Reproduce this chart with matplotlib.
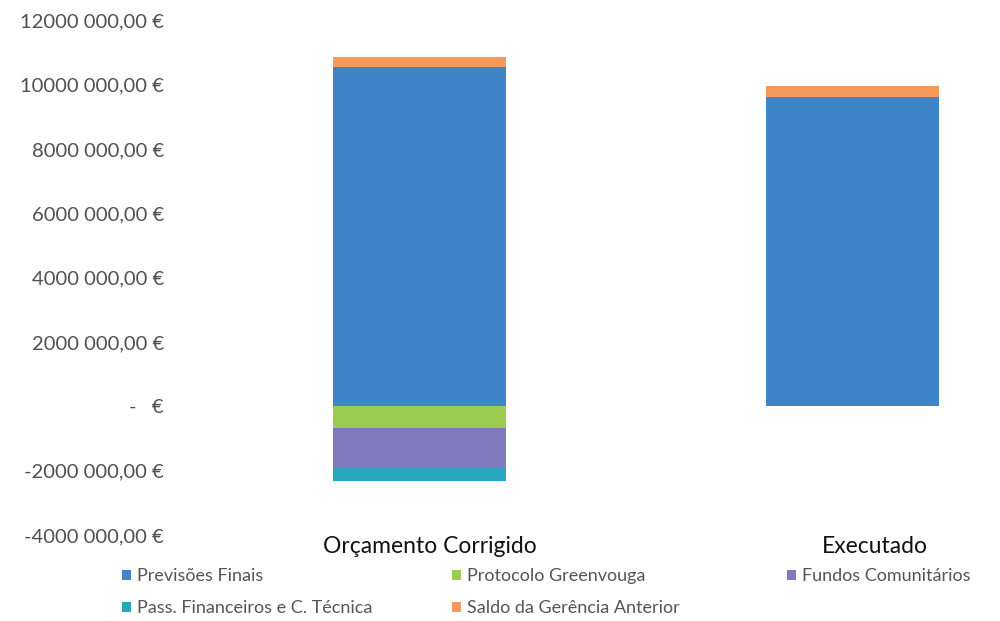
import matplotlib
matplotlib.use("Agg")
import matplotlib.pyplot as plt
import numpy as np

categories = ["Orçamento Corrigido", "Executado"]
previsoes_finais = [10540000, 9600000]
protocolo_greenvouga = [-680000, 0]
fundos_comunitarios = [-1250000, 0]
pass_financeiros = [-400000, 0]
saldo_gerencia = [310000, 340000]

series_names = ["Previsões Finais", "Protocolo Greenvouga", "Fundos Comunitários",
                "Pass. Financeiros e C. Técnica", "Saldo da Gerência Anterior"]
colors = ["#3D85C6", "#9CCB52", "#8079BF", "#27A6BF", "#F59A5A"]

yticks = [-4000000, -2000000, 0, 2000000, 4000000, 6000000, 8000000, 10000000, 12000000]
ytick_labels = ["-4000 000,00 €", "-2000 000,00 €", "-   €", "2000 000,00 €", "4000 000,00 €",
                "6000 000,00 €", "8000 000,00 €", "10000 000,00 €", "12000 000,00 €"]

plt.rcParams['font.family'] = ['Lato', 'DejaVu Sans']

fig = plt.figure(figsize=(10, 6.21), dpi=100)
ax = fig.add_axes([0.2, 0.1385, 0.8, 0.829])

x = np.arange(len(categories))
w = 0.40

pos = np.array(previsoes_finais, dtype=float)
b_prev = ax.bar(x, previsoes_finais, w, color=colors[0], label=series_names[0])
b_saldo = ax.bar(x, saldo_gerencia, w, bottom=pos, color=colors[4], label=series_names[4])
neg = np.zeros(len(categories))
b_proto = ax.bar(x, protocolo_greenvouga, w, bottom=neg, color=colors[1], label=series_names[1])
neg = neg + np.array(protocolo_greenvouga)
b_fundos = ax.bar(x, fundos_comunitarios, w, bottom=neg, color=colors[2], label=series_names[2])
neg = neg + np.array(fundos_comunitarios)
b_pass = ax.bar(x, pass_financeiros, w, bottom=neg, color=colors[3], label=series_names[3])

ax.set_ylim(-4000000, 12000000)
ax.set_xlim(-0.508, 1.34)
ax.set_yticks(yticks)
ax.set_yticklabels(ytick_labels, fontsize=14.5, color="#505050")
ax.set_xticks([0.023, 1.05])
ax.set_xticklabels(categories, fontsize=16.5, color="#111111")
ax.tick_params(axis='both', length=0)
ax.tick_params(axis='y', pad=26)
ax.tick_params(axis='x', pad=1)
for s in ax.spines.values():
    s.set_visible(False)

legend_cols = [
    ([b_prev, b_pass], [series_names[0], series_names[3]], 0.122),
    ([b_proto, b_saldo], [series_names[1], series_names[4]], 0.452),
    ([b_fundos], [series_names[2]], 0.787),
]
for hs, ls, xpos in legend_cols:
    leg = fig.legend(hs, ls, loc="upper left", bbox_to_anchor=(xpos, 0.085),
                     frameon=False, fontsize=13,
                     handlelength=0.5, handleheight=0.5,
                     handletextpad=0.35, labelspacing=0.9, borderpad=0, borderaxespad=0)
    for t in leg.get_texts():
        t.set_color("#555555")

fig.savefig("out.png", dpi=100)
